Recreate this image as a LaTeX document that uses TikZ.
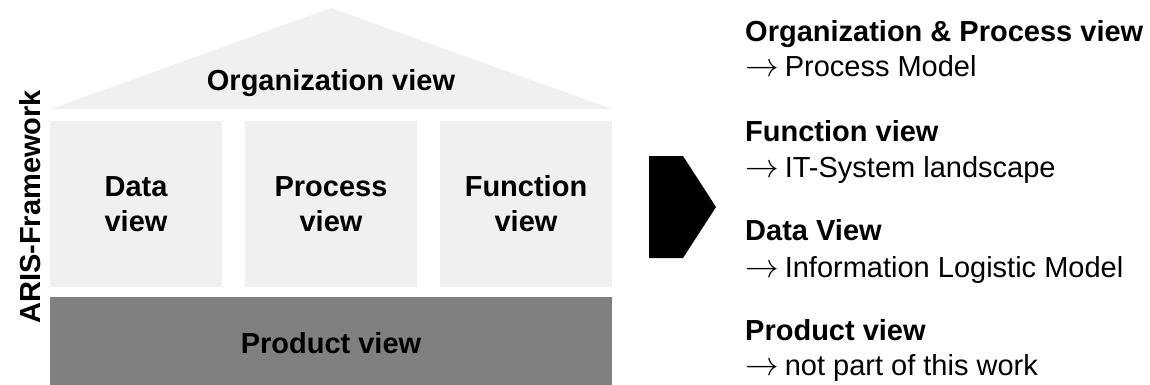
\documentclass[tikz,border=0pt]{standalone}
\usepackage{graphicx}
\usepackage{fontspec}
\setmainfont{Liberation Sans}
\usetikzlibrary{shapes,arrows}

\definecolor{viewgray}{HTML}{F0F0F0}
\definecolor{productgray}{HTML}{808080}

% long thin arrow in front of each result
\newcommand{\toarrow}{\smash{\scalebox{1.35}{$\rightarrow$}}\hspace{6pt}}

\tikzset{
  viewbox/.style={fill=viewgray},
  viewtext/.style={font=\fontsize{29}{35}\selectfont\bfseries, align=center, inner sep=0pt},
  headtext/.style={font=\fontsize{29}{35}\selectfont\bfseries, anchor=base west, inner sep=0pt},
  itemtext/.style={font=\fontsize{29}{35}\selectfont, anchor=base west, inner sep=0pt}
}

\begin{document}
\begin{tikzpicture}[x=1pt,y=-1pt]
  \useasboundingbox (0,0) rectangle (1150,385);

  %roof
  \fill[viewgray] (51,109) -- (331,8) -- (612,109) -- cycle;
  \node[viewtext,anchor=base] (orgview) at (331,91) {Organization view};

  %pillars
  \fill[viewgray] (50,121) rectangle (222,287);
  \fill[viewgray] (245,121) rectangle (417,287);
  \fill[viewgray] (440,121) rectangle (612,287);
  \node[viewtext] (dataview) at (136,204) {Data\\view};
  \node[viewtext] (procview) at (331,204) {Process\\view};
  \node[viewtext] (funcview) at (526,204) {Function\\view};

  %base
  \fill[productgray] (50,297) rectangle (612,385);
  \node[viewtext,anchor=base] (prodview) at (331,353) {Product view};

  \node[viewtext,rotate=90] (aris) at (30,207) {ARIS-Framework};

  %big arrow
  \fill[black] (649,156) -- (683,156) -- (716,207) -- (683,258) -- (649,258) -- cycle;

  %results
  \node[headtext] (orghead) at (745,42) {Organization \& Process view};
  \node[itemtext] (orgitem) at (745,77) {\toarrow Process Model};
  \node[headtext] (funchead) at (745,142) {Function view};
  \node[itemtext] (funcitem) at (745,177) {\toarrow IT-System landscape};
  \node[headtext] (datahead) at (745,240) {Data View};
  \node[itemtext] (dataitem) at (745,277) {\toarrow Information Logistic Model};
  \node[headtext] (prodhead) at (745,340) {Product view};
  \node[itemtext] (proditem) at (745,375) {\toarrow not part of this work};

\end{tikzpicture}
\end{document}
